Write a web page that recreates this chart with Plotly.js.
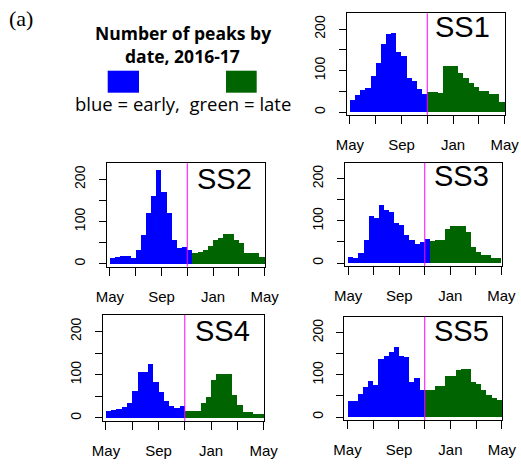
<!DOCTYPE html>
<html>
<head>
<meta charset="utf-8">
<script src="https://cdn.plot.ly/plotly-3.0.1.min.js"></script>
<style>
  html, body { margin: 0; padding: 0; background: #ffffff; }
  #chart { width: 521px; height: 465px; }
</style>
</head>
<body>
<div id="chart"></div>
<script>
// Month axis: 0 = 1 May 2016, 12 = 1 May 2017; ticks every two months
const monthTickVals = [0, 2, 4, 6, 8, 10, 12];
const monthTickText = ['May', '', 'Sep', '', 'Jan', '', 'May'];
const countTickVals = [0, 50, 100, 150, 200];
const countTickText = ['0', '', '100', '', '200'];

const sites = ['SS1', 'SS2', 'SS3', 'SS4', 'SS5'];

// Peak counts per bin (bins of 0.4 month). Early bins start in May,
// late bins start at the November split.
const earlySS1 = [30, 41, 53, 57, 86, 119, 163, 188, 190, 144, 135, 83, 75, 56, 44, 0];
const lateSS1  = [48, 48, 45, 111, 111, 110, 95, 82, 71, 60, 50, 50, 43, 43, 25];
const earlySS2 = [13, 17, 19, 19, 14, 32, 67, 121, 161, 222, 169, 121, 56, 37, 40, 32];
const lateSS2  = [25, 25, 28, 33, 42, 56, 60, 71, 71, 56, 48, 26, 25, 25, 17];
const earlySS3 = [14, 12, 23, 54, 111, 106, 138, 126, 122, 96, 90, 67, 54, 46, 50, 58];
const lateSS3  = [52, 52, 55, 55, 80, 88, 88, 88, 74, 38, 26, 20, 20, 12, 12];
const earlySS4 = [16, 18, 21, 26, 35, 62, 107, 107, 125, 84, 60, 40, 27, 23, 27, 0];
const lateSS4  = [17, 17, 17, 35, 48, 87, 101, 101, 101, 54, 29, 14, 14, 9, 9];
const earlySS5 = [37, 37, 55, 71, 86, 77, 138, 144, 154, 167, 144, 142, 83, 93, 65, 0];
const lateSS5  = [65, 65, 73, 73, 98, 98, 111, 114, 114, 83, 79, 63, 52, 45, 41];

const earlyStart = 0;   // May
const lateStart = 6;    // November split
const binWidth = 0.4;

const earlyCounts = [earlySS1, earlySS2, earlySS3, earlySS4, earlySS5];
const lateCounts  = [lateSS1, lateSS2, lateSS3, lateSS4, lateSS5];

// Panel frames in page pixels: [left, top, right, bottom]
const W = 521, H = 465;
const frames = [
  [346.7, 13.3, 505.0, 115.0],
  [106.7, 163.3, 265.0, 266.7],
  [345.0, 162.7, 501.7, 266.0],
  [102.7, 315.0, 264.0, 421.0],
  [344.3, 316.7, 502.3, 420.0]
];
// Site label centres in page pixels
const labelPos = [[462.5, 27.5], [224, 178.7], [461, 175.8], [222, 330.8], [461, 330.8]];

const BLUE = '#0000ff', GREEN = '#006400', SPLIT = '#ff00ff';
const tickFont = { family: 'Liberation Sans, Arial, sans-serif', size: 15, color: '#000' };
const keyFont = 'Open Sans, Lato, sans-serif';

function centres(start, n) {
  const out = [];
  for (let i = 0; i < n; i++) out.push(start + (i + 0.5) * binWidth);
  return out;
}

const data = [];
const layout = {
  width: W, height: H,
  margin: { l: 0, r: 0, t: 0, b: 0, pad: 0 },
  paper_bgcolor: '#ffffff', plot_bgcolor: '#ffffff',
  barmode: 'overlay', bargap: 0,
  showlegend: false,
  shapes: [], annotations: []
};

sites.forEach((name, k) => {
  const s = k === 0 ? '' : String(k + 1);
  const f = frames[k];
  const late = lateCounts[k], early = earlyCounts[k];
  data.push({
    type: 'bar', x: centres(lateStart, late.length), y: late, width: binWidth,
    marker: { color: GREEN, line: { width: 0 } },
    xaxis: 'x' + s, yaxis: 'y' + s, hoverinfo: 'skip'
  });
  data.push({
    type: 'bar', x: centres(earlyStart, early.length), y: early, width: binWidth,
    marker: { color: BLUE, line: { width: 0 } },
    xaxis: 'x' + s, yaxis: 'y' + s, hoverinfo: 'skip'
  });

  layout['xaxis' + s] = {
    domain: [f[0] / W, f[2] / W],
    anchor: 'y' + s,
    range: [-0.25, 12.03],
    tickmode: 'array', tickvals: monthTickVals, ticktext: monthTickText,
    ticks: 'outside', ticklen: 8, tickwidth: 1, tickcolor: '#000',
    ticklabelstandoff: 8,
    showline: true, mirror: true, linecolor: '#000', linewidth: 1,
    showgrid: false, zeroline: false, fixedrange: true,
    tickfont: tickFont
  };
  layout['yaxis' + s] = {
    domain: [1 - f[3] / H, 1 - f[1] / H],
    anchor: 'x' + s,
    range: [-7, 238],
    tickmode: 'array', tickvals: countTickVals, ticktext: countTickText,
    tickangle: -90,
    ticks: 'outside', ticklen: 7, tickwidth: 1, tickcolor: '#000',
    ticklabelstandoff: 8,
    showline: true, mirror: true, linecolor: '#000', linewidth: 1,
    showgrid: false, zeroline: false, fixedrange: true,
    tickfont: { family: tickFont.family, size: 14, color: '#000' }
  };

  // early / late split at 1 November
  layout.shapes.push({
    type: 'line', xref: 'x' + s, yref: 'y' + s + ' domain',
    x0: lateStart, x1: lateStart, y0: 0, y1: 1,
    line: { color: SPLIT, width: 1 }, layer: 'above'
  });

  layout.annotations.push({
    text: name, xref: 'paper', yref: 'paper',
    x: labelPos[k][0] / W, y: 1 - labelPos[k][1] / H,
    xanchor: 'center', yanchor: 'middle', showarrow: false,
    font: { family: 'Liberation Sans, Arial, sans-serif', size: 29, color: '#000' }
  });
});

// Key in the upper-left corner
layout.annotations.push(
  {
    text: '(a)', xref: 'paper', yref: 'paper', x: 7 / W, y: 1 - 18.5 / H,
    xanchor: 'left', yanchor: 'middle', showarrow: false,
    font: { family: 'Liberation Serif, Times New Roman, serif', size: 22, color: '#000' }
  },
  {
    text: '<b>Number of peaks by</b>', xref: 'paper', yref: 'paper',
    x: 183 / W, y: 1 - 33 / H, xanchor: 'center', yanchor: 'middle', showarrow: false,
    font: { family: keyFont, size: 17.5, color: '#000' }
  },
  {
    text: '<b>date, 2016-17</b>', xref: 'paper', yref: 'paper',
    x: 182 / W, y: 1 - 56 / H, xanchor: 'center', yanchor: 'middle', showarrow: false,
    font: { family: keyFont, size: 17.5, color: '#000' }
  },
  {
    text: 'blue = early,\u00a0 green = late', xref: 'paper', yref: 'paper',
    x: 183 / W, y: 1 - 104 / H, xanchor: 'center', yanchor: 'middle', showarrow: false,
    font: { family: keyFont, size: 18.5, color: '#000' }
  }
);
layout.shapes.push(
  { type: 'rect', xref: 'paper', yref: 'paper',
    x0: 107.7 / W, x1: 139 / W, y0: 1 - 92.7 / H, y1: 1 - 70.7 / H,
    fillcolor: BLUE, line: { width: 0 } },
  { type: 'rect', xref: 'paper', yref: 'paper',
    x0: 226 / W, x1: 256.7 / W, y0: 1 - 92.7 / H, y1: 1 - 70.7 / H,
    fillcolor: GREEN, line: { width: 0 } }
);

Plotly.newPlot('chart', data, layout, { displayModeBar: false, staticPlot: true });
</script>
</body>
</html>
